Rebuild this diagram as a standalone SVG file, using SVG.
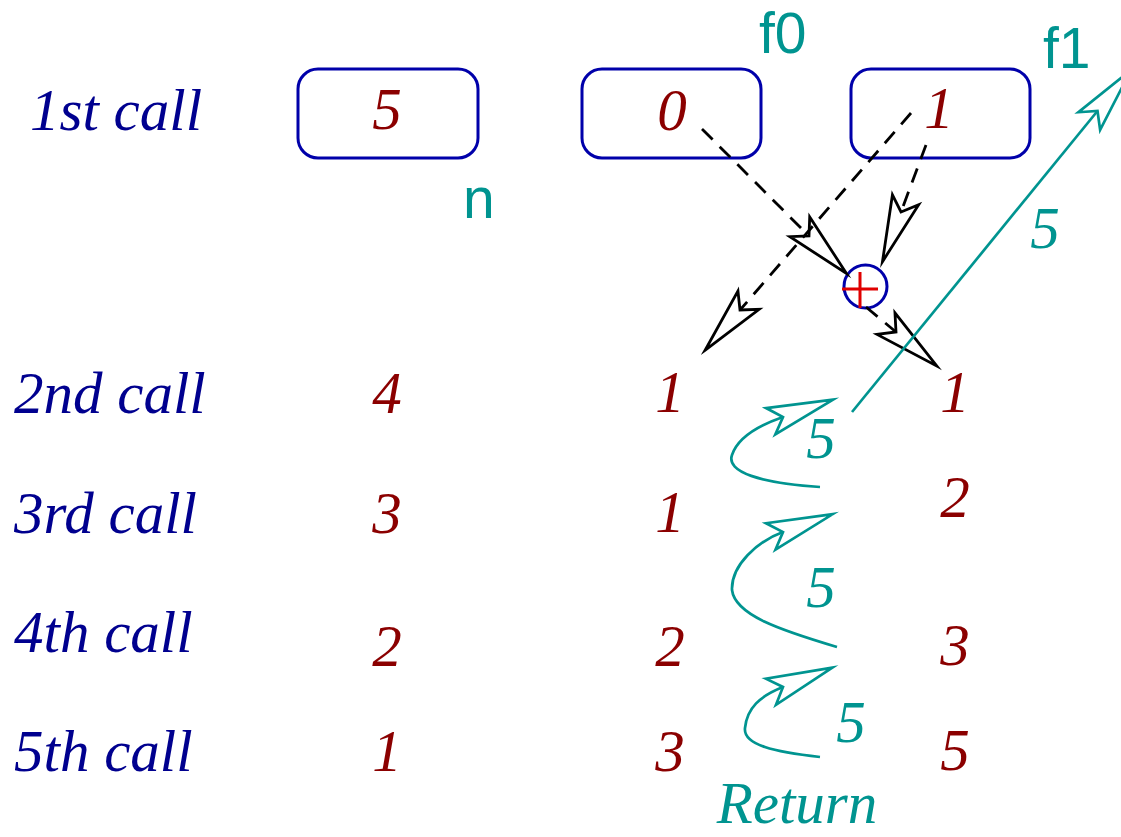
<svg xmlns="http://www.w3.org/2000/svg" width="1121" height="837" viewBox="0 0 1121 837">
<style>
.lbl{font-family:"Liberation Serif","Times New Roman",serif;font-style:italic;font-size:59px;fill:#00008f}
.num{font-family:"Liberation Serif","Times New Roman",serif;font-style:italic;font-size:59px;fill:#8b0000;text-anchor:middle}
.tnum{font-family:"Liberation Serif","Times New Roman",serif;font-style:italic;font-size:59px;fill:#009490;text-anchor:middle}
.var{font-family:"Liberation Sans",Arial,sans-serif;font-size:57px;fill:#009490}
.box{fill:none;stroke:#0000aa;stroke-width:3}
.dash{fill:none;stroke:#000;stroke-width:2.8;stroke-dasharray:15 10;marker-end:url(#ahB)}
.teal{fill:none;stroke:#009490;stroke-width:2.7;marker-end:url(#ahT)}
</style>
<defs>
<marker id="ahB" markerUnits="userSpaceOnUse" orient="auto" refX="0" refY="0" markerWidth="80" markerHeight="40" viewBox="-20 -20 80 40" overflow="visible">
<path d="M53,0 L-13,-14 L0,0 L-13,14 Z" fill="none" stroke="#000" stroke-width="2.8" stroke-linejoin="miter" stroke-miterlimit="12"/>
</marker>
<marker id="ahT" markerUnits="userSpaceOnUse" orient="auto" refX="0" refY="0" markerWidth="80" markerHeight="40" viewBox="-20 -20 80 40" overflow="visible">
<path d="M53,0 L-13,-14 L0,0 L-13,14 Z" fill="none" stroke="#009490" stroke-width="2.7" stroke-linejoin="miter" stroke-miterlimit="12"/>
</marker>
</defs>
<rect width="1121" height="837" fill="#fff"/>

<g id="row-labels">
<text class="lbl" x="30" y="130">1st call</text>
<text class="lbl" x="14" y="413">2nd call</text>
<text class="lbl" x="14" y="533">3rd call</text>
<text class="lbl" x="14" y="652">4th call</text>
<text class="lbl" x="14" y="771">5th call</text>
</g>

<g id="box-n">
<rect class="box" x="298" y="69" width="180" height="89" rx="20"/>
<text class="num" x="387" y="129">5</text>
<text class="var" x="463" y="218">n</text>
</g>
<g id="box-f0">
<rect class="box" x="582" y="69" width="179" height="89" rx="20"/>
<text class="num" x="672" y="130">0</text>
<text class="var" x="759" y="53">f0</text>
</g>
<g id="box-f1">
<rect class="box" x="851" y="69" width="179" height="89" rx="20"/>
<text class="num" x="939" y="128">1</text>
<text class="var" x="1043" y="68">f1</text>
</g>

<g id="plus-node">
<circle cx="865.5" cy="286.5" r="21.5" fill="none" stroke="#0000aa" stroke-width="3"/>
<path d="M842,289 H878 M860,272 V308" stroke="#e00000" stroke-width="3" fill="none"/>
</g>

<g id="col-n">
<text class="num" x="387" y="413">4</text>
<text class="num" x="387" y="533">3</text>
<text class="num" x="387" y="666">2</text>
<text class="num" x="387" y="771">1</text>
</g>
<g id="col-f0">
<text class="num" x="670" y="412">1</text>
<text class="num" x="670" y="532">1</text>
<text class="num" x="670" y="666">2</text>
<text class="num" x="670" y="771">3</text>
</g>
<g id="col-f1">
<text class="num" x="955" y="412">1</text>
<text class="num" x="955" y="517">2</text>
<text class="num" x="955" y="665">3</text>
<text class="num" x="955" y="770">5</text>
</g>

<g id="connectors">
<path class="dash" d="M702,129 L809,236"/>
<path class="dash" d="M911,113 L740,310"/>
<path class="dash" d="M926,145 L901,212"/>
<path class="dash" d="M866,307 L896,332"/>
<path class="teal" d="M852,412 L1097.5,111"/>
<path class="teal" d="M820,487 C760,483 726,472 732,455 C738,437 760,425 783,417"/>
<path class="teal" d="M837,647 C780,630 735,615 732,590 C731,565 758,541 783,532"/>
<path class="teal" d="M820,757 C775,752 743,745 745,728 C747,708 760,696 783,687"/>
</g>

<g id="return-labels">
<text class="tnum" x="1045" y="248">5</text>
<text class="tnum" x="821" y="458">5</text>
<text class="tnum" x="821" y="607">5</text>
<text class="tnum" x="851" y="742">5</text>
<text class="tnum" x="797" y="823">Return</text>
</g>
</svg>
